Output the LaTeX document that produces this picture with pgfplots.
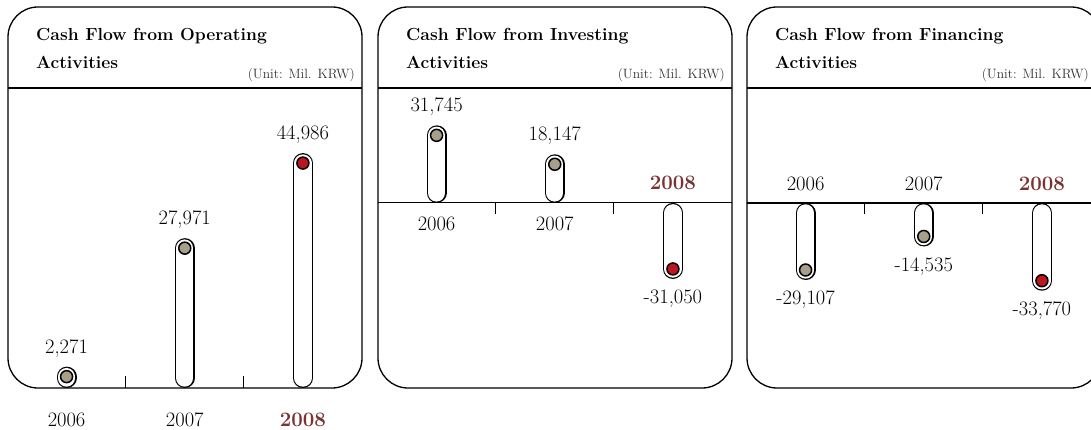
\documentclass[border=0pt]{standalone}
\usepackage{xcolor}
\usepackage{pgfplots}
\pgfplotsset{compat=1.18}
\definecolor{dotgrey}{HTML}{A89F8A}
\definecolor{dotred}{HTML}{BE1620}
\definecolor{hilite}{HTML}{7A3232}
\definecolor{unitgrey}{HTML}{333333}
\newcommand\numfont{\fontsize{20.5}{21}\selectfont}
\newcommand\titlefont{\fontsize{17.5}{20}\selectfont\bfseries}
\newcommand\unitfont{\fontsize{13.5}{15}\selectfont}

\tikzset{
  capsule/.style={ycomb, draw=black, line width=1.3pt, double=white,
    double distance=17.4pt, line cap=round, shorten <=10pt, mark=none},
  cat/.style={anchor=base, font=\numfont, inner sep=0pt},
  cathi/.style={cat, font=\numfont\bfseries, text=hilite},
}
\pgfplotsset{
  panel/.style={scale only axis, width=354.5pt, height=300pt,
    xmin=-0.5, xmax=2.5, axis y line=none, clip=false,
    xtick={0.5,1.5}, xticklabels={}, major tick length=11pt,
    tick style={black, line width=0.8pt},
    axis line style={line width=1.2pt},
    /pgf/number format/.cd, fixed, precision=0, 1000 sep={,}, assume math mode=true},
  dot/.style={only marks, mark=*, mark size=6pt,
    mark options={draw=black, fill=#1, line width=1.5pt}},
  valpos/.style={nodes near coords, every node near coord/.append style={
    anchor=base, yshift=23.5pt, inner sep=0pt, font=\numfont, text=black}},
  valneg/.style={nodes near coords, every node near coord/.append style={
    anchor=base, yshift=-35pt, inner sep=0pt, font=\numfont, text=black}},
}

\begin{document}
\begin{tikzpicture}[x=1pt,y=1pt]
\useasboundingbox (0,0) rectangle (1091,-430);
\clip (0,0) rectangle (1091,-430);

% frames and headers
\foreach \xl/\ttl/\ux in {8/Operating/355, 378/Investing/725, 747/Financing/1089}{
  \draw[line width=1.3pt, rounded corners=30pt] (\xl,-388) rectangle (\xl+354,-7);
  \draw[line width=1.2pt] (\xl,-88) -- (\xl+354,-88);
  \node[anchor=base west, inner sep=0pt, font=\titlefont] at (\xl+28,-41) {Cash Flow from \ttl};
  \node[anchor=base west, inner sep=0pt, font=\titlefont] at (\xl+28,-69) {Activities};
  \node[anchor=base east, inner sep=0pt, font=\unitfont, text=unitgrey] at (\ux,-79) {(Unit: Mil. KRW)};
}

% Operating
\begin{axis}[panel, at={(7.5pt,-388pt)}, anchor=south west,
  ymin=0, ymax=60000, axis x line*=bottom, x axis line style={draw=none},
  tick align=inside, major tick length=12pt]
\addplot[capsule] coordinates {(0,2271)};
\addplot[capsule] coordinates {(1,27971)};
\addplot[capsule] coordinates {(2,44986)};
\addplot[dot=dotgrey, valpos] coordinates {(0,2271) (1,27971)};
\addplot[dot=dotred, valpos] coordinates {(2,44986)};
\node[cat, yshift=-38pt] at (axis cs:0,0) {2006};
\node[cat, yshift=-38pt] at (axis cs:1,0) {2007};
\node[cathi, yshift=-38pt] at (axis cs:2,0) {2008};
\end{axis}

% Investing
\begin{axis}[panel, at={(377.5pt,-388pt)}, anchor=south west,
  ymin=-87000, ymax=54000, axis x line*=middle, tick align=outside]
\addplot[capsule] coordinates {(0,31745)};
\addplot[capsule] coordinates {(1,18147)};
\addplot[capsule] coordinates {(2,-31050)};
\addplot[dot=dotgrey, valpos] coordinates {(0,31745) (1,18147)};
\addplot[dot=dotred, valneg] coordinates {(2,-31050)};
\node[cat, yshift=-28pt] at (axis cs:0,0) {2006};
\node[cat, yshift=-28pt] at (axis cs:1,0) {2007};
\node[cathi, yshift=13pt] at (axis cs:2,0) {2008};
\end{axis}

% Financing
\begin{axis}[panel, at={(746.5pt,-388pt)}, anchor=south west,
  ymin=-80400, ymax=50000, axis x line*=middle, tick align=outside]
\addplot[capsule] coordinates {(0,-29107)};
\addplot[capsule] coordinates {(1,-14535)};
\addplot[capsule] coordinates {(2,-33770)};
\addplot[dot=dotgrey, valneg] coordinates {(0,-29107) (1,-14535)};
\addplot[dot=dotred, valneg] coordinates {(2,-33770)};
\node[cat, yshift=13pt] at (axis cs:0,0) {2006};
\node[cat, yshift=13pt] at (axis cs:1,0) {2007};
\node[cathi, yshift=13pt] at (axis cs:2,0) {2008};
\end{axis}
\end{tikzpicture}
\end{document}
